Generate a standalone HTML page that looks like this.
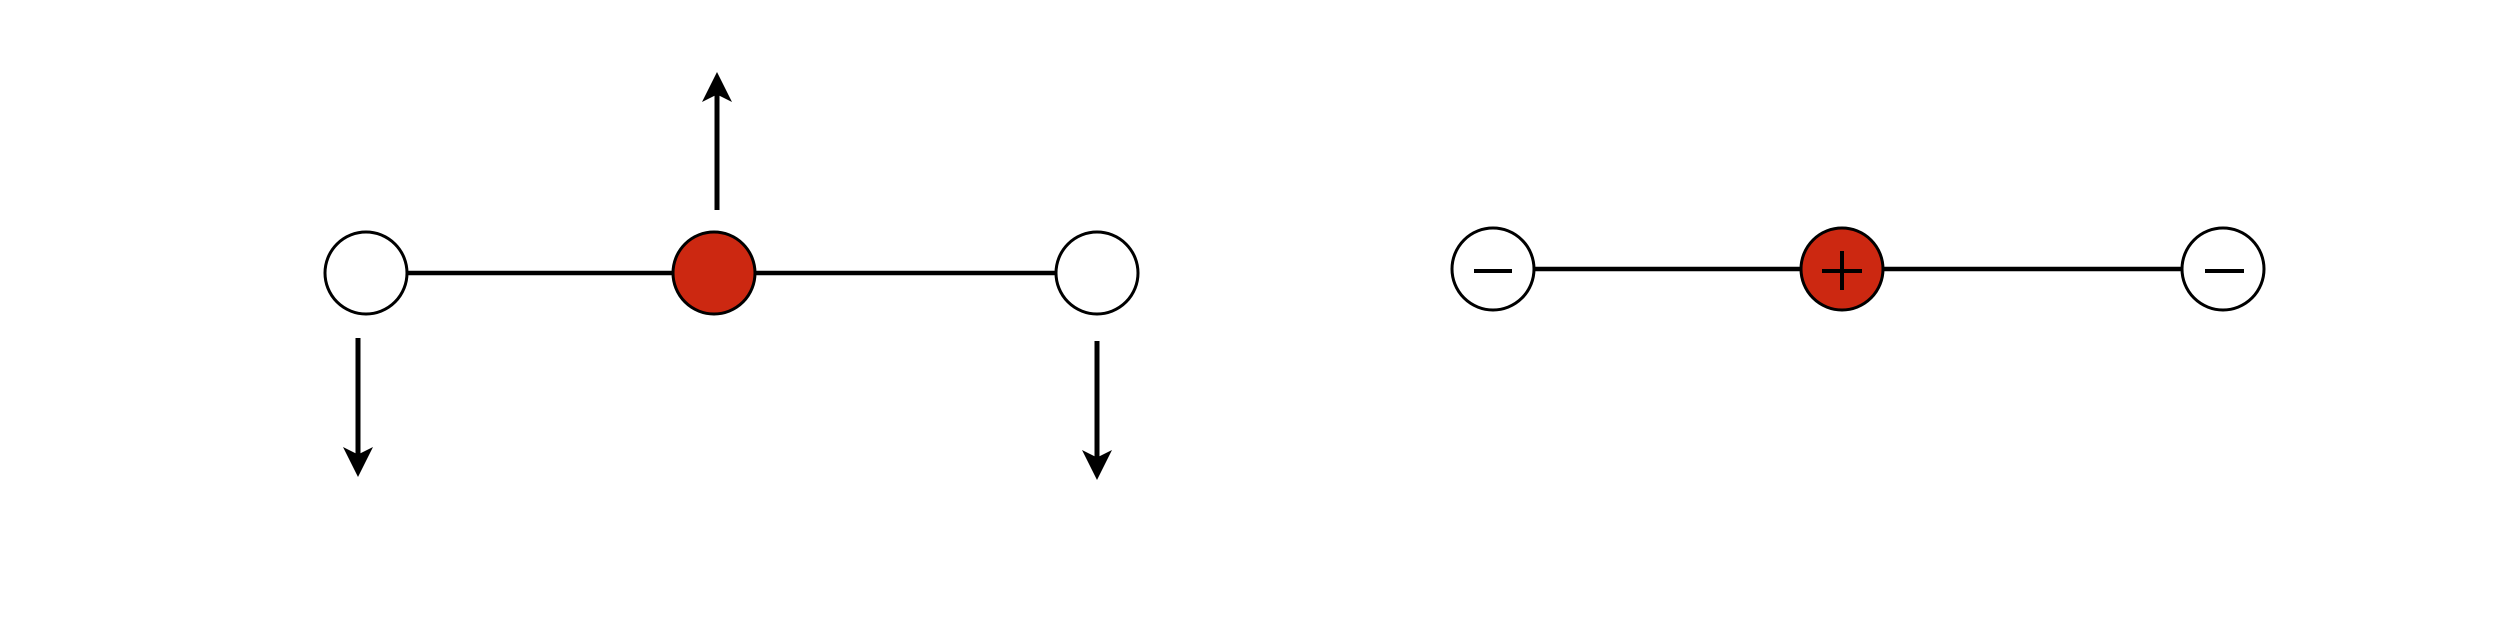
<!DOCTYPE html>
<html><head><meta charset="utf-8"><style>html,body{margin:0;padding:0;background:#fff}svg{display:block}</style></head>
<body>
<svg width="2504" height="618" viewBox="0 0 2504 618" xmlns="http://www.w3.org/2000/svg">
<defs><marker id="ah" viewBox="0 0 10 10" refX="8" refY="5" markerWidth="6" markerHeight="6" markerUnits="strokeWidth" orient="auto"><path d="M0,0 L10,5 L0,10 L2.5,5 Z" fill="#000"/></marker></defs>
<g stroke="#000">
<line x1="407" y1="273" x2="672" y2="273" stroke-width="4.5"/>
<line x1="755" y1="273" x2="1056" y2="273" stroke-width="4.5"/>
<circle cx="366" cy="273" r="41" fill="#fff" stroke-width="3"/>
<circle cx="714" cy="273" r="41" fill="#cc2811" stroke-width="3"/>
<circle cx="1097" cy="273" r="41" fill="#fff" stroke-width="3"/>
<line x1="717" y1="210" x2="717" y2="78" stroke-width="5" marker-end="url(#ah)"/>
<line x1="358" y1="338" x2="358" y2="471" stroke-width="5" marker-end="url(#ah)"/>
<line x1="1097" y1="341" x2="1097" y2="474" stroke-width="5" marker-end="url(#ah)"/>
</g>
<g stroke="#000">
<line x1="1534" y1="269" x2="1801" y2="269" stroke-width="4.5"/>
<line x1="1883" y1="269" x2="2182" y2="269" stroke-width="4.5"/>
<circle cx="1493" cy="269" r="41" fill="#fff" stroke-width="3"/>
<circle cx="1842" cy="269" r="41" fill="#cc2811" stroke-width="3"/>
<circle cx="2223" cy="269" r="41" fill="#fff" stroke-width="3"/>
<line x1="1474" y1="271" x2="1512" y2="271" stroke-width="4"/>
<line x1="2205" y1="271" x2="2244" y2="271" stroke-width="4"/>
<line x1="1822" y1="271" x2="1862" y2="271" stroke-width="4"/>
<line x1="1842" y1="251" x2="1842" y2="290" stroke-width="4"/>
</g>
</svg>
</body></html>
